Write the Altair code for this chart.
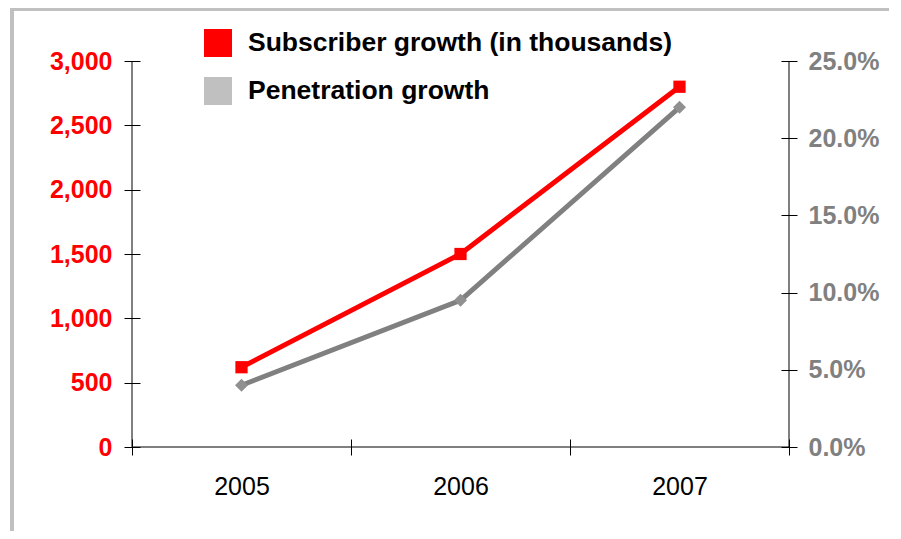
import altair as alt
import pandas as pd

years = ["2005", "2006", "2007"]
subscribers = [620, 1500, 2800]
penetration = [0.040, 0.095, 0.220]
legend_labels = ["Subscriber growth (in thousands)", "Penetration growth"]

df = pd.DataFrame({"year": years, "subs": subscribers, "pen": penetration})

FONT = "Liberation Sans"
W, H = 657, 386

x_enc = alt.X(
    "year:N",
    scale=alt.Scale(type="band", paddingInner=0, paddingOuter=0),
    axis=alt.Axis(
        title=None, labelAngle=0, labelFont=FONT, labelFontSize=25,
        labelColor="black", tickBand="extent", tickColor="black",
        domain=False, offset=-8, tickSize=16, labelPadding=19, grid=False,
    ),
)

base = alt.Chart(df).encode(x=x_enc)

y_left = alt.Y(
    "subs:Q",
    scale=alt.Scale(domain=[0, 3000], nice=False),
    axis=alt.Axis(
        title=None, values=[0, 500, 1000, 1500, 2000, 2500, 3000], format=",d",
        labelFont=FONT, labelFontSize=25, labelFontWeight="bold",
        labelColor="#ff0000", tickColor="black", domain=False, offset=-8,
        tickSize=16, labelPadding=12, grid=False,
    ),
)
y_right = alt.Y(
    "pen:Q",
    scale=alt.Scale(domain=[0, 0.25], nice=False),
    axis=alt.Axis(
        title=None, orient="right", values=[0, 0.05, 0.10, 0.15, 0.20, 0.25],
        format=".1%", labelFont=FONT, labelFontSize=25, labelFontWeight="bold",
        labelColor="#808080", tickColor="black", domain=False, offset=-8,
        tickSize=16, labelPadding=11, grid=False,
    ),
)

red_line = base.mark_line(color="#ff0000", strokeWidth=5).encode(y=y_left)
red_pts = base.mark_square(color="#ff0000", size=150, opacity=1).encode(y=y_left)
left = alt.layer(red_line, red_pts)

gray_line = base.mark_line(color="#808080", strokeWidth=5).encode(y=y_right)
gray_pts = base.mark_point(shape="diamond", filled=True, color="#909090", size=170, opacity=1).encode(y=y_right)
right = alt.layer(gray_line, gray_pts)

# legend (manual)
leg_df = pd.DataFrame({"label": legend_labels})
leg1_sq = alt.Chart(leg_df.iloc[[0]]).mark_square(size=784, color="#ff0000", opacity=1).encode(
    x=alt.value(86), y=alt.value(-18))
leg1_tx = alt.Chart(leg_df.iloc[[0]]).mark_text(
    align="left", baseline="middle", font=FONT, fontSize=26.5, fontWeight="bold", color="black"
).encode(x=alt.value(116), y=alt.value(-18), text="label:N")
leg2_sq = alt.Chart(leg_df.iloc[[1]]).mark_square(size=784, color="#c0c0c0", opacity=1).encode(
    x=alt.value(86), y=alt.value(30))
leg2_tx = alt.Chart(leg_df.iloc[[1]]).mark_text(
    align="left", baseline="middle", font=FONT, fontSize=26.5, fontWeight="bold", color="black"
).encode(x=alt.value(116), y=alt.value(30), text="label:N")

# axis lines
one = leg_df.iloc[[0]]
dom_left = alt.Chart(one).mark_rule(color="black", strokeWidth=1).encode(
    x=alt.value(0), y=alt.value(0), y2=alt.value(H))
dom_right = alt.Chart(one).mark_rule(color="black", strokeWidth=1).encode(
    x=alt.value(W), y=alt.value(0), y2=alt.value(H))
dom_bottom = alt.Chart(one).mark_rule(color="black", strokeWidth=1).encode(
    x=alt.value(0), x2=alt.value(W), y=alt.value(H))

# decorative frame
frame_left = alt.Chart(one).mark_rule(color="#c0c0c0", strokeWidth=4).encode(
    x=alt.value(-120), y=alt.value(-53), y2=alt.value(500))
frame_top = alt.Chart(one).mark_rule(color="#c0c0c0", strokeWidth=4).encode(
    x=alt.value(-122), x2=alt.value(780), y=alt.value(-52))

chart = alt.layer(
    frame_left, frame_top, dom_left, dom_right, dom_bottom,
    left, right, leg1_sq, leg1_tx, leg2_sq, leg2_tx
).resolve_scale(y="independent").properties(
    width=W, height=H,
    background="white",
    autosize=alt.AutoSizeParams(type="none"),
    padding={"left": 124, "top": 53, "right": 100, "bottom": 84},
).configure_view(stroke=None)

chart.save("out.html", embed_options={"renderer": "svg", "actions": False})
